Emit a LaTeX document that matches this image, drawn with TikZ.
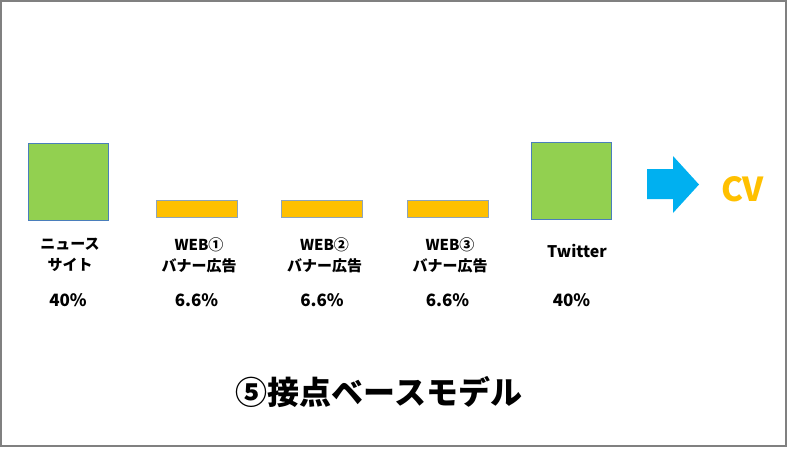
\documentclass[tikz,border=0pt]{standalone}
\usepackage{fontspec}
\setmainfont{Noto Sans CJK JP}
\definecolor{leafgreen}{HTML}{92D050}
\definecolor{sunorange}{HTML}{FFC000}
\definecolor{skyblue}{HTML}{00B0F0}
\definecolor{edgeblue}{HTML}{4A7EBB}
\definecolor{edgegray}{HTML}{8EA4BA}
\begin{document}
\begin{tikzpicture}[x=1pt,y=-1pt,
  greenbox/.style={draw=edgeblue, fill=leafgreen, line width=0.8pt, minimum width=80pt, minimum height=77pt, inner sep=0pt},
  orangebox/.style={draw=edgegray, fill=sunorange, line width=0.8pt, minimum width=81pt, minimum height=17pt, inner sep=0pt},
  label/.style={align=center, inner sep=0pt, font=\bfseries\fontsize{15}{21}\selectfont},
  share/.style={inner sep=0pt, font=\bfseries\fontsize{17}{20}\selectfont}]
  \useasboundingbox (0,0) rectangle (800,448);
  \draw[gray, line width=1.5pt] (0.75,0.75) rectangle (786,446);

  % Define nodes
  \node[greenbox] (news) at (68,181.5) {};
  \node[orangebox] (web1) at (196.5,208.5) {};
  \node[orangebox] (web2) at (322,208.5) {};
  \node[orangebox] (web3) at (447.5,208.5) {};
  \node[greenbox] (twitter) at (571.5,181) {};

  \node[label] (newslabel) at (70,255) {ニュース\\サイト};
  \node[label] (web1label) at (199,255) {WEB①\\バナー広告};
  \node[label] (web2label) at (324.5,255) {WEB②\\バナー広告};
  \node[label] (web3label) at (450,255) {WEB③\\バナー広告};
  \node[label, font=\bfseries\fontsize{16}{21}\selectfont] (twitterlabel) at (577,251) {Twitter};

  \node[share] (newsshare) at (68,300) {40\%};
  \node[share] (web1share) at (196.5,300) {6.6\%};
  \node[share] (web2share) at (322,300) {6.6\%};
  \node[share] (web3share) at (447.5,300) {6.6\%};
  \node[share] (twittershare) at (571.5,300) {40\%};

  % Arrow to the goal
  \fill[skyblue] (647,169) -- (673,169) -- (673,156) -- (699,184.5)
    -- (673,213) -- (673,199) -- (647,199) -- cycle;
  \node[text=sunorange, font=\bfseries\fontsize{33}{36}\selectfont] (cv) at (742.5,189) {CV};

  \node[font=\bfseries\fontsize{32}{36}\selectfont] (title) at (379,392) {⑤接点ベースモデル};
\end{tikzpicture}
\end{document}
